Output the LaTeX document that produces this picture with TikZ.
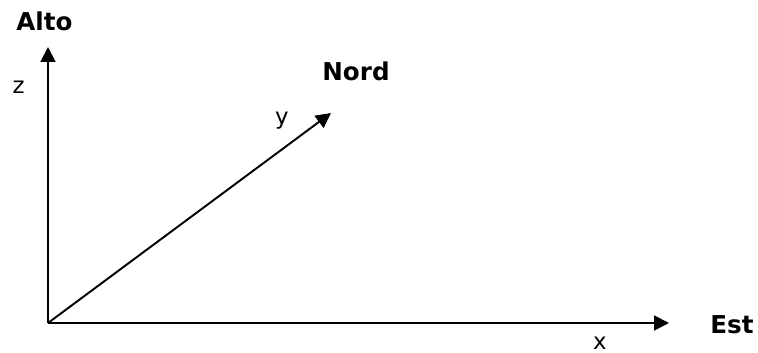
\documentclass[tikz,border=0pt]{standalone}
\usepackage{fontspec}
\setmainfont{DejaVu Sans}
\usetikzlibrary{arrows.meta}
\tikzset{
  % --- axes and their labels ---
  axis/.style={line width=1.1pt, -{Triangle[length=8.5pt,width=8.5pt]}},
  dirlabel/.style={font=\fontsize{14}{16}\selectfont\bfseries, inner sep=0pt},
  axlabel/.style={font=\fontsize{13}{15}\selectfont, inner sep=0pt},
}
\begin{document}
\begin{tikzpicture}[x=0.02cm, y=-0.02cm]
  \useasboundingbox (0,0) rectangle (758,352);
  % --- origin and axis tips ---
  \coordinate (o)    at (48,323);
  \coordinate (ztip) at (48,47);
  \coordinate (xtip) at (669,323);
  \coordinate (ytip) at (331,113);

  \draw[axis] (o) -- (ztip);
  \draw[axis] (o) -- (xtip);
  \draw[axis] (o) -- (ytip);

  % --- labels ---
  \node[dirlabel] (alto) at (44.5,21.5) {Alto};
  \node[dirlabel] (nord) at (356,71)    {Nord};
  \node[dirlabel] (est)  at (732,325)   {Est};
  \node[axlabel]  (zl)   at (18.5,87)   {z};
  \node[axlabel]  (yl)   at (282,121)   {y};
  \node[axlabel]  (xl)   at (600,343)   {x};
\end{tikzpicture}
\end{document}
